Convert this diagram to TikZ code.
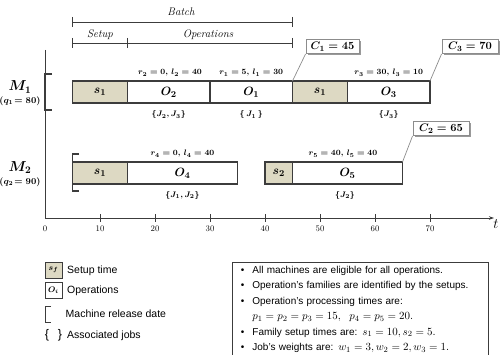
\documentclass[tikz,border=0pt]{standalone}
\usepackage{amsmath}
\usepackage{fontspec}
\newfontfamily\legendfont{Liberation Sans}
\usetikzlibrary{shadows,arrows.meta}
\definecolor{setupfill}{HTML}{DDD9C3}
\definecolor{edge}{HTML}{3C3C3C}
\definecolor{linkgray}{HTML}{8C8C8C}
\newcommand{\infomath}[1]{{\fontsize{11}{15.5}\selectfont$#1$}}
\begin{document}
\begin{tikzpicture}[x=1pt,y=-1pt,
  bar/.style={draw=edge, line width=1.2pt, minimum height=22pt, inner sep=0pt, outer sep=0pt,
    font=\fontsize{12.5}{13}\selectfont\boldmath},
  setupbar/.style={bar, fill=setupfill},
  opbar/.style={bar, fill=white},
  note/.style={inner sep=1pt, font=\fontsize{8.5}{9}\selectfont\boldmath},
  jobs/.style={inner sep=1pt, font=\fontsize{8.5}{9}\selectfont\boldmath},
  mlab/.style={inner sep=0pt, font=\fontsize{14}{15}\selectfont\boldmath},
  qlab/.style={inner sep=0pt, font=\fontsize{8.8}{9}\selectfont\boldmath},
  ticklab/.style={inner sep=0pt, font=\fontsize{8.5}{9}\selectfont},
  rulerlab/.style={inner sep=0pt, font=\fontsize{11}{12}\selectfont\itshape},
  ruler/.style={draw=edge, line width=0.7pt},
  axis/.style={draw=edge, line width=0.9pt},
  relbr/.style={draw=edge, line width=1.4pt},
  cbox/.style={draw=linkgray, fill=white, line width=0.9pt, minimum height=14pt, inner sep=0pt,
    font=\fontsize{11}{12}\selectfont\boldmath,
    drop shadow={shadow xshift=1.6pt, shadow yshift=-1.6pt, fill=black!40, opacity=1}},
  clink/.style={draw=linkgray, line width=0.7pt},
  legtxt/.style={inner sep=0pt, anchor=west, font=\legendfont\fontsize{10.5}{12}\selectfont}
]
\useasboundingbox (0,0) rectangle (502,355);

% rulers
\draw[ruler] (72.5,22) -- (292.5,22);
\draw[ruler] (72.5,17) -- (72.5,27);
\draw[ruler] (292.5,17) -- (292.5,27);
\node[rulerlab] (batch) at (181,12) {Batch};
\draw[ruler] (72.5,43) -- (292.5,43);
\draw[ruler] (72.5,38) -- (72.5,48);
\draw[ruler] (127.5,38) -- (127.5,48);
\draw[ruler] (292.5,38) -- (292.5,48);
\node[rulerlab] (setl) at (100,35) {Setup};
\node[rulerlab] (opl) at (208,35) {Operations};

% axes
\coordinate (ytop) at (45,50);
\coordinate (orig) at (45,218);
\coordinate (tend) at (494,218);
\draw[axis] (ytop) -- (orig);
\draw[axis,-{Stealth[length=5pt,width=3.5pt]}] (orig) -- (tend);
\foreach \v in {10,20,...,70}{
  \draw[axis,line width=0.7pt] (45+5.5*\v,214) -- (45+5.5*\v,222);
  \node[ticklab] (tick\v) at (45+5.5*\v,229) {\v};
}
\node[ticklab] (tick0) at (45,229) {0};
\node[inner sep=0pt, font=\fontsize{14}{15}\selectfont] (tlab) at (496,224) {$t$};

% machine labels
\node[mlab] (m1) at (20,87) {$M_1$};
\node[qlab] (q1) at (20,101) {$(q_1\!= 80)$};
\node[mlab] (m2) at (20,167.5) {$M_2$};
\node[qlab] (q2) at (20,182.5) {$(q_2\!= 90)$};

% release brackets
\draw[relbr] (52,74) -- (45,74) -- (45,110) -- (52,110);
\draw[relbr] (79,154) -- (72.5,154) -- (72.5,191) -- (79,191);

% machine 1
\node[setupbar, minimum width=55pt] (a1) at (100,92) {$s_1$};
\node[opbar, minimum width=82.5pt] (a2) at (168.75,92) {$O_2$};
\node[opbar, minimum width=82.5pt] (a3) at (251.25,92) {$O_1$};
\node[setupbar, minimum width=55pt] (a4) at (320,92) {$s_1$};
\node[opbar, minimum width=82.5pt] (a5) at (388.75,92) {$O_3$};

% machine 2
\node[setupbar, minimum width=55pt] (b1) at (100,173) {$s_1$};
\node[opbar, minimum width=110pt] (b2) at (182.5,173) {$O_4$};
\node[setupbar, minimum width=27.5pt] (b3) at (278.75,173) {$s_2$};
\node[opbar, minimum width=110pt] (b4) at (347.5,173) {$O_5$};

% notes
\node[note] (n2) at (170,73) {$r_2 = 0,\, l_2 = 40$};
\node[note] (n1) at (251.25,73) {$r_1 = 5,\, l_1 = 30$};
\node[note] (n3) at (388.75,73) {$r_3 = 30,\, l_3 = 10$};
\node[note] (n4) at (182.5,154) {$r_4 = 0,\, l_4 = 40$};
\node[note] (n5) at (343,154) {$r_5 = 40,\, l_5 = 40$};

\node[jobs] (j2) at (168.75,115) {$\{J_2, J_3\}$};
\node[jobs] (j1) at (251.25,115) {$\{\,J_1\,\}$};
\node[jobs] (j3) at (388.75,115) {$\{J_3\}$};
\node[jobs] (j4) at (182.5,195) {$\{J_1, J_2\}$};
\node[jobs] (j5) at (345,195) {$\{J_2\}$};

% completion boxes
\node[cbox, minimum width=53pt] (c1) at (332.5,46.5) {$C_1 = 45$};
\node[cbox, minimum width=56pt] (c3) at (470,46.5) {$C_3 = 70$};
\node[cbox, minimum width=56pt] (c2) at (441,128.5) {$C_2 = 65$};
\draw[clink] (a3.north east) -- (c1.south west);
\draw[clink] (a5.north east) -- (c3.south west);
\draw[clink] (b4.north east) -- (c2.south west);

% legend
\node[setupbar, minimum width=17pt, minimum height=16pt, line width=0.9pt,
  font=\fontsize{8.5}{9}\selectfont\boldmath] (ls) at (53.5,270) {$s_f$};
\node[opbar, minimum width=17pt, minimum height=16pt, line width=0.9pt,
  font=\fontsize{8.5}{9}\selectfont\boldmath] (lo) at (53.5,290) {$O_i$};
\draw[relbr, line width=0.9pt] (51,306) -- (45.5,306) -- (45.5,322) -- (51,322);
\node[inner sep=0pt, font=\legendfont\fontsize{12.5}{13}\selectfont] (lb1) at (47,335) {\{};
\node[inner sep=0pt, font=\legendfont\fontsize{12.5}{13}\selectfont] (lb2) at (60,335) {\}};
\node[legtxt] (lt1) at (67,271) {Setup time};
\node[legtxt] (lt2) at (67,291) {Operations};
\node[legtxt] (lt3) at (65.5,314) {Machine release date};
\node[legtxt] (lt4) at (67,336) {Associated jobs};

% info box
\node[draw=edge, line width=0.8pt, anchor=north west, minimum height=91pt,
  text width=247pt, inner xsep=4.5pt, inner ysep=0pt, align=left,
  font=\legendfont\fontsize{10}{15.5}\selectfont] (info) at (232,262) {%
  \begin{tabular}{@{\hspace{4pt}}l@{\hspace{8pt}}l@{}}
  • & All machines are eligible for all operations.\\
  • & Operation’s families are identified by the setups.\\
  • & Operation’s processing times are:\\
    & \infomath{p_1 = p_2 = p_3 = 15,\ \ p_4 = p_5 = 20.}\\
  • & Family setup times are: \infomath{s_1 = 10, s_2 = 5.}\\
  • & Job’s weights are: \infomath{w_1 = 3, w_2 = 2, w_3 = 1.}
  \end{tabular}};
\end{tikzpicture}
\end{document}
